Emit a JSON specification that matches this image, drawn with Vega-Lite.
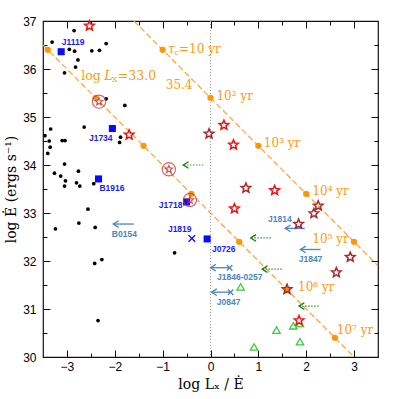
{
  "$schema": "https://vega.github.io/schema/vega-lite/v6.json",
  "width": 335,
  "height": 336,
  "autosize": {"type": "none"},
  "padding": {"left": 43, "top": 21, "right": 21, "bottom": 42},
  "background": "white",
  "config": {
    "view": {"stroke": "#111", "strokeWidth": 1.2},
    "axis": {"grid": false, "domain": false, "labelFont": "Liberation Sans", "labelFontSize": 12, "labelColor": "#000", "tickColor": "#111", "tickWidth": 1, "titleFont": "DejaVu Serif", "titleFontSize": 14, "titleFontWeight": "normal", "titleColor": "#000"}
  },
  "resolve": {"axis": {"x": "independent", "y": "independent"}},
  "layer": [
    {
      "layer": [
        {
          "data": {"values": [{"L": "33", "x": -3.5, "y": 36.5}, {"L": "33", "x": 3.0, "y": 30.0}, {"L": "35.4", "x": -1.6, "y": 37.0}, {"L": "35.4", "x": 3.5, "y": 31.9}]},
          "mark": {"type": "line", "color": "#ffa640", "strokeDash": [6, 3], "strokeWidth": 1.3, "clip": true},
          "encoding": {
            "x": {"field": "x", "type": "quantitative", "scale": {"domain": [-3.5, 3.5], "nice": false, "zero": false},
                  "axis": {"orient": "bottom", "values": [-3, -2, -1, 0, 1, 2, 3], "tickSize": -7, "labelPadding": 11, "title": "log Lₓ / Ė", "titlePadding": 5}},
            "y": {"field": "y", "type": "quantitative", "scale": {"domain": [30, 37], "nice": false, "zero": false},
                  "axis": {"orient": "left", "values": [30, 31, 32, 33, 34, 35, 36, 37], "tickSize": -7, "labelPadding": 14, "title": "log Ė (ergs s⁻¹)", "titlePadding": 4}},
            "detail": {"field": "L"}
          }
        },
        {
          "data": {"values": [{}]},
          "mark": {"type": "rule", "color": "#9a9a9a", "strokeDash": [1, 2], "strokeWidth": 1},
          "encoding": {"x": {"datum": 0, "type": "quantitative"}}
        },
        {
          "data": {"values": [
            {"x": -3.4, "y": 36.4}, {"x": -2.4, "y": 35.4}, {"x": -1.4, "y": 34.4}, {"x": -0.4, "y": 33.4}, {"x": 0.6, "y": 32.4}, {"x": 1.6, "y": 31.4}, {"x": 2.6, "y": 30.4},
            {"x": -1.0, "y": 36.4}, {"x": 0.0, "y": 35.4}, {"x": 1.0, "y": 34.4}, {"x": 2.0, "y": 33.4}, {"x": 3.0, "y": 32.4}
          ]},
          "mark": {"type": "point", "shape": "circle", "filled": true, "color": "#ff960a", "size": 40, "opacity": 1},
          "encoding": {"x": {"field": "x", "type": "quantitative"}, "y": {"field": "y", "type": "quantitative"}}
        },
        {
          "data": {"values": [
            {"x": -2.85, "y": 36.80}, {"x": -3.31, "y": 36.56}, {"x": -2.18, "y": 36.53}, {"x": -2.95, "y": 36.41}, {"x": -2.84, "y": 36.37},
            {"x": -2.48, "y": 36.38}, {"x": -2.32, "y": 36.39}, {"x": -2.77, "y": 36.19}, {"x": -2.82, "y": 36.04}, {"x": -3.05, "y": 35.92},
            {"x": -2.18, "y": 35.38}, {"x": -1.79, "y": 35.24}, {"x": -2.64, "y": 34.79}, {"x": -3.34, "y": 34.75}, {"x": -3.46, "y": 34.61},
            {"x": -3.37, "y": 34.50}, {"x": -3.10, "y": 34.51}, {"x": -3.04, "y": 34.51}, {"x": -3.35, "y": 34.37}, {"x": -3.40, "y": 34.24},
            {"x": -1.88, "y": 34.58}, {"x": -1.90, "y": 34.47}, {"x": -3.05, "y": 34.02}, {"x": -3.26, "y": 33.83}, {"x": -3.13, "y": 33.77},
            {"x": -3.03, "y": 33.67}, {"x": -2.76, "y": 33.87}, {"x": -2.80, "y": 33.63}, {"x": -2.73, "y": 33.56}, {"x": -3.05, "y": 33.56},
            {"x": -2.44, "y": 33.61}, {"x": -2.56, "y": 33.08}, {"x": -3.24, "y": 32.67}, {"x": -2.75, "y": 32.79}, {"x": -2.41, "y": 32.70},
            {"x": -2.27, "y": 32.03}, {"x": -2.42, "y": 31.95}, {"x": -2.35, "y": 30.76}, {"x": -0.75, "y": 32.17}
          ]},
          "mark": {"type": "point", "shape": "circle", "filled": true, "color": "#000", "size": 14, "opacity": 1},
          "encoding": {"x": {"field": "x", "type": "quantitative"}, "y": {"field": "y", "type": "quantitative"}}
        },
        {
          "data": {"values": [
            {"name": "J1119", "x": -3.12, "y": 36.36}, {"name": "J1734", "x": -2.05, "y": 34.76}, {"name": "B1916", "x": -2.34, "y": 33.71},
            {"name": "J1718", "x": -0.50, "y": 33.23}, {"name": "J0726", "x": -0.07, "y": 32.46}
          ]},
          "mark": {"type": "point", "shape": "square", "filled": true, "color": "#0a0aff", "size": 50, "opacity": 1},
          "encoding": {"x": {"field": "x", "type": "quantitative"}, "y": {"field": "y", "type": "quantitative"}}
        },
        {
          "data": {"values": [{"name": "J1819", "x": -0.39, "y": 32.47}]},
          "mark": {"type": "point", "shape": "M-1,-1L1,1M-1,1L1,-1", "filled": false, "color": "#0a0aff", "size": 44, "strokeWidth": 1.4, "opacity": 1},
          "encoding": {"x": {"field": "x", "type": "quantitative"}, "y": {"field": "y", "type": "quantitative"}}
        },
        {
          "data": {"values": [
            {"name": "J1119", "lx": -3.11, "ly": 36.56}, {"name": "J1734", "lx": -2.54, "ly": 34.56}, {"name": "B1916", "lx": -2.32, "ly": 33.52},
            {"name": "J1718", "lx": -1.08, "ly": 33.17}, {"name": "J1819", "lx": -0.89, "ly": 32.67}, {"name": "J0726", "lx": 0.03, "ly": 32.25}
          ]},
          "mark": {"type": "text", "align": "left", "baseline": "middle", "font": "Liberation Sans", "fontWeight": "bold", "fontSize": 8.5, "color": "#1a1aff"},
          "encoding": {"x": {"field": "lx", "type": "quantitative"}, "y": {"field": "ly", "type": "quantitative"}, "text": {"field": "name"}}
        },
        {
          "data": {"values": [
            {"name": "B0154", "x": -1.60, "x2": -2.03, "y": 32.77}, {"name": "J1814", "x": 1.97, "x2": 1.56, "y": 32.68},
            {"name": "J1847", "x": 2.30, "x2": 1.88, "y": 32.24}, {"name": "J1846-0257", "x": 0.40, "x2": 0.0, "y": 31.86},
            {"name": "J0847", "x": 0.42, "x2": 0.02, "y": 31.35}
          ]},
          "mark": {"type": "rule", "color": "#4a86c0", "strokeWidth": 1.3},
          "encoding": {"x": {"field": "x", "type": "quantitative"}, "x2": {"field": "x2"}, "y": {"field": "y", "type": "quantitative"}}
        },
        {
          "data": {"values": [
            {"name": "B0154", "x2": -2.03, "y": 32.77}, {"name": "J1814", "x2": 1.56, "y": 32.68},
            {"name": "J1847", "x2": 1.88, "y": 32.24}, {"name": "J1846-0257", "x2": 0.0, "y": 31.86},
            {"name": "J0847", "x2": 0.02, "y": 31.35}
          ]},
          "mark": {"type": "point", "shape": "M1.6,-1L0,0L1.6,1", "filled": false, "color": "#4a86c0", "size": 44, "strokeWidth": 1.3, "opacity": 1},
          "encoding": {"x": {"field": "x2", "type": "quantitative"}, "y": {"field": "y", "type": "quantitative"}}
        },
        {
          "data": {"values": [{"name": "J1846-0257", "x": 0.40, "y": 31.86}, {"name": "J0847", "x": 0.42, "y": 31.35}]},
          "mark": {"type": "point", "shape": "M-1,-1L1,1M-1,1L1,-1", "filled": false, "color": "#4a86c0", "size": 30, "strokeWidth": 1.3, "opacity": 1},
          "encoding": {"x": {"field": "x", "type": "quantitative"}, "y": {"field": "y", "type": "quantitative"}}
        },
        {
          "data": {"values": [
            {"name": "B0154", "lx": -1.80, "ly": 32.56}, {"name": "J1814", "lx": 1.45, "ly": 32.875}, {"name": "J1847", "lx": 2.09, "ly": 32.035},
            {"name": "J1846-0257", "lx": 0.61, "ly": 31.66}, {"name": "J0847", "lx": 0.38, "ly": 31.15}
          ]},
          "mark": {"type": "text", "align": "center", "baseline": "middle", "font": "Liberation Sans", "fontWeight": "bold", "fontSize": 8.5, "color": "#4a86c0"},
          "encoding": {"x": {"field": "lx", "type": "quantitative"}, "y": {"field": "ly", "type": "quantitative"}, "text": {"field": "name"}}
        },
        {
          "data": {"values": [
            {"x": -0.15, "x2": -0.57, "y": 34.0}, {"x": 1.26, "x2": 0.84, "y": 32.48},
            {"x": 1.49, "x2": 1.08, "y": 31.83}, {"x": 2.26, "x2": 1.85, "y": 31.06}
          ]},
          "mark": {"type": "rule", "color": "#2f9a2f", "strokeWidth": 1.2, "strokeDash": [1.5, 1.5]},
          "encoding": {"x": {"field": "x", "type": "quantitative"}, "x2": {"field": "x2"}, "y": {"field": "y", "type": "quantitative"}}
        },
        {
          "data": {"values": [
            {"x2": -0.57, "y": 34.0}, {"x2": 0.84, "y": 32.48}, {"x2": 1.08, "y": 31.83}, {"x2": 1.85, "y": 31.06}
          ]},
          "mark": {"type": "point", "shape": "M1.6,-1L0,0L1.6,1", "filled": false, "color": "#137a13", "size": 44, "strokeWidth": 1.3, "opacity": 1},
          "encoding": {"x": {"field": "x2", "type": "quantitative"}, "y": {"field": "y", "type": "quantitative"}}
        },
        {
          "data": {"values": [
            {"x": 0.63, "y": 31.46}, {"x": 1.38, "y": 30.56}, {"x": 1.73, "y": 30.65}, {"x": 1.87, "y": 30.70}, {"x": 1.87, "y": 30.32}, {"x": 0.91, "y": 30.21}
          ]},
          "mark": {"type": "point", "shape": "triangle-up", "filled": false, "color": "#3ccc3c", "size": 55, "strokeWidth": 1.3, "opacity": 1},
          "encoding": {"x": {"field": "x", "type": "quantitative"}, "y": {"field": "y", "type": "quantitative"}}
        },
        {
          "data": {"values": [
            {"x": -2.53, "y": 36.90}, {"x": -1.70, "y": 34.63}, {"x": 0.28, "y": 34.83}, {"x": 0.48, "y": 34.42},
            {"x": 1.34, "y": 33.47}, {"x": 0.50, "y": 33.09}, {"x": 1.85, "y": 30.76}
          ]},
          "mark": {"type": "point", "shape": "M0,-1L0.265,-0.364L0.951,-0.309L0.428,0.139L0.588,0.809L0,0.45L-0.588,0.809L-0.428,0.139L-0.951,-0.309L-0.265,-0.364Z", "filled": true, "fill": "#ffffff", "stroke": "#ee1111", "strokeWidth": 1.5, "size": 100, "opacity": 1},
          "encoding": {"x": {"field": "x", "type": "quantitative"}, "y": {"field": "y", "type": "quantitative"}}
        },
        {
          "data": {"values": [
            {"x": -0.03, "y": 34.65}, {"x": 0.74, "y": 33.52}, {"x": 2.25, "y": 33.15}, {"x": 2.16, "y": 32.99},
            {"x": 1.84, "y": 32.77}, {"x": 2.92, "y": 32.08}, {"x": 2.63, "y": 31.76}, {"x": 1.60, "y": 31.41}
          ]},
          "mark": {"type": "point", "shape": "M0,-1L0.265,-0.364L0.951,-0.309L0.428,0.139L0.588,0.809L0,0.45L-0.588,0.809L-0.428,0.139L-0.951,-0.309L-0.265,-0.364Z", "filled": false, "stroke": "#a82830", "strokeWidth": 1.5, "size": 100, "opacity": 1},
          "encoding": {"x": {"field": "x", "type": "quantitative"}, "y": {"field": "y", "type": "quantitative"}}
        },
        {
          "data": {"values": [{"x": -2.33, "y": 35.32}, {"x": -0.87, "y": 33.91}, {"x": -0.43, "y": 33.27}]},
          "mark": {"type": "point", "shape": "circle", "filled": false, "stroke": "#c03838", "strokeWidth": 1.2, "size": 175, "opacity": 0.75},
          "encoding": {"x": {"field": "x", "type": "quantitative"}, "y": {"field": "y", "type": "quantitative"}}
        },
        {
          "data": {"values": [{"x": -2.33, "y": 35.32}, {"x": -0.87, "y": 33.91}, {"x": -0.43, "y": 33.27}]},
          "mark": {"type": "point", "shape": "M0,-1L0.265,-0.364L0.951,-0.309L0.428,0.139L0.588,0.809L0,0.45L-0.588,0.809L-0.428,0.139L-0.951,-0.309L-0.265,-0.364Z", "filled": false, "stroke": "#b83038", "strokeWidth": 1.2, "size": 60, "opacity": 0.8},
          "encoding": {"x": {"field": "x", "type": "quantitative"}, "y": {"field": "y", "type": "quantitative"}}
        },
        {
          "data": {"values": [
            {"t": "35.4", "x": -0.935, "y": 35.66}, {"t": "10² yr", "x": 0.125, "y": 35.44}, {"t": "10³ yr", "x": 1.115, "y": 34.45},
            {"t": "10⁴ yr", "x": 2.13, "y": 33.46}, {"t": "10⁵ yr", "x": 2.13, "y": 32.46}, {"t": "10⁶ yr", "x": 1.83, "y": 31.46}, {"t": "10⁷ yr", "x": 2.64, "y": 30.56}
          ]},
          "mark": {"type": "text", "align": "left", "baseline": "middle", "font": "DejaVu Serif", "fontSize": 12, "color": "#ff9a10"},
          "encoding": {"x": {"field": "x", "type": "quantitative"}, "y": {"field": "y", "type": "quantitative"}, "text": {"field": "t"}}
        },
        {
          "data": {"values": [{"t": "τ", "x": -0.887, "y": 36.42}]},
          "mark": {"type": "text", "align": "left", "baseline": "middle", "font": "DejaVu Serif", "fontStyle": "italic", "fontSize": 12, "color": "#ff9a10"},
          "encoding": {"x": {"field": "x", "type": "quantitative"}, "y": {"field": "y", "type": "quantitative"}, "text": {"field": "t"}}
        },
        {
          "data": {"values": [{"t": "c", "x": -0.887, "y": 36.42}]},
          "mark": {"type": "text", "align": "left", "baseline": "middle", "font": "DejaVu Serif", "fontSize": 8, "dx": 6.5, "dy": 4, "color": "#ff9a10"},
          "encoding": {"x": {"field": "x", "type": "quantitative"}, "y": {"field": "y", "type": "quantitative"}, "text": {"field": "t"}}
        },
        {
          "data": {"values": [{"t": "=10 yr", "x": -0.887, "y": 36.42}]},
          "mark": {"type": "text", "align": "left", "baseline": "middle", "font": "DejaVu Serif", "fontSize": 12, "dx": 11, "color": "#ff9a10"},
          "encoding": {"x": {"field": "x", "type": "quantitative"}, "y": {"field": "y", "type": "quantitative"}, "text": {"field": "t"}}
        },
        {
          "data": {"values": [{"t": "log", "x": -2.70, "y": 35.85}]},
          "mark": {"type": "text", "align": "left", "baseline": "middle", "font": "DejaVu Serif", "fontSize": 12.5, "color": "#ff9a10"},
          "encoding": {"x": {"field": "x", "type": "quantitative"}, "y": {"field": "y", "type": "quantitative"}, "text": {"field": "t"}}
        },
        {
          "data": {"values": [{"t": "L", "x": -2.70, "y": 35.85}]},
          "mark": {"type": "text", "align": "left", "baseline": "middle", "font": "DejaVu Serif", "fontStyle": "italic", "fontSize": 12.5, "dx": 23, "color": "#ff9a10"},
          "encoding": {"x": {"field": "x", "type": "quantitative"}, "y": {"field": "y", "type": "quantitative"}, "text": {"field": "t"}}
        },
        {
          "data": {"values": [{"t": "X", "x": -2.70, "y": 35.85}]},
          "mark": {"type": "text", "align": "left", "baseline": "middle", "font": "DejaVu Serif", "fontSize": 8, "dx": 30.5, "dy": 4, "color": "#ff9a10"},
          "encoding": {"x": {"field": "x", "type": "quantitative"}, "y": {"field": "y", "type": "quantitative"}, "text": {"field": "t"}}
        },
        {
          "data": {"values": [{"t": "=33.0", "x": -2.70, "y": 35.85}]},
          "mark": {"type": "text", "align": "left", "baseline": "middle", "font": "DejaVu Serif", "fontSize": 12.5, "dx": 36.5, "color": "#ff9a10"},
          "encoding": {"x": {"field": "x", "type": "quantitative"}, "y": {"field": "y", "type": "quantitative"}, "text": {"field": "t"}}
        }
      ]
    },
    {
      "data": {"values": [{}]},
      "mark": {"type": "point", "opacity": 0},
      "encoding": {
        "x": {"datum": 0, "type": "quantitative", "axis": {"orient": "bottom", "values": [-2.5, -1.5, -0.5, 0.5, 1.5, 2.5], "tickSize": -4, "labels": false, "title": null}},
        "y": {"datum": 33, "type": "quantitative", "axis": {"orient": "left", "values": [30.5, 31.5, 32.5, 33.5, 34.5, 35.5, 36.5], "tickSize": -4, "labels": false, "title": null}}
      }
    },
    {
      "data": {"values": [{}]},
      "mark": {"type": "point", "opacity": 0},
      "encoding": {
        "x": {"datum": 0, "type": "quantitative", "axis": {"orient": "top", "values": [-3, -2, -1, 0, 1, 2, 3], "tickSize": -7, "labels": false, "title": null}},
        "y": {"datum": 33, "type": "quantitative", "axis": {"orient": "right", "values": [31, 32, 33, 34, 35, 36], "tickSize": -7, "labels": false, "title": null}}
      }
    },
    {
      "data": {"values": [{}]},
      "mark": {"type": "point", "opacity": 0},
      "encoding": {
        "x": {"datum": 0, "type": "quantitative", "axis": {"orient": "top", "values": [-2.5, -1.5, -0.5, 0.5, 1.5, 2.5], "tickSize": -4, "labels": false, "title": null}},
        "y": {"datum": 33, "type": "quantitative", "axis": {"orient": "right", "values": [30.5, 31.5, 32.5, 33.5, 34.5, 35.5, 36.5], "tickSize": -4, "labels": false, "title": null}}
      }
    }
  ]
}
